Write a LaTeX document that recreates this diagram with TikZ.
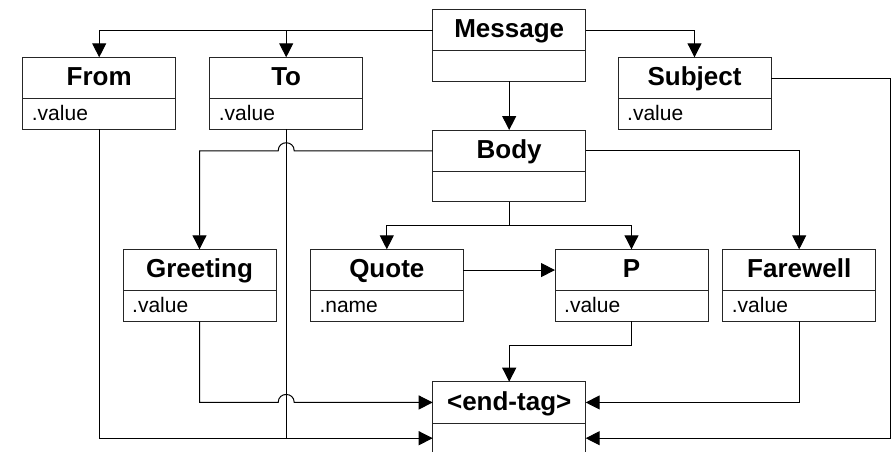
\documentclass[tikz,border=0pt]{standalone}
\usepackage{fontspec}
\setmainfont{Liberation Sans}
\usetikzlibrary{calc,arrows.meta}
\tikzset{
  umlrect/.style={draw=black!85, line width=1pt, inner sep=0pt, outer sep=0pt, minimum width=153pt, anchor=north west},
  divline/.style={draw=black!85, line width=1pt},
  titletext/.style={inner sep=0pt, anchor=base, font=\fontsize{26}{30}\selectfont\bfseries},
  valtext/.style={inner sep=0pt, anchor=base west, font=\fontsize{21}{25}\selectfont},
  conn/.style={draw=black, line width=1pt},
  arr/.style={conn, -{Triangle[length=14pt,width=14pt]}},
}
\newcommand\umlbox[6]{%
  \node[umlrect, minimum height=#6] (#1) at (#2,#3) {};
  \draw[divline] ($(#1.north west)+(0,41.5)$) -- ($(#1.north east)+(0,41.5)$);
  \node[titletext] (#1-t) at ($(#1.north)+(0,28.5)$) {#4};
  \node[valtext] (#1-v) at ($(#1.north west)+(9,63)$) {#5};
  \coordinate (#1-tw) at ($(#1.north west)+(0,20.75)$);
  \coordinate (#1-te) at ($(#1.north east)+(0,20.75)$);
}
\begin{document}
\begin{tikzpicture}[x=1pt,y=-1pt]
\useasboundingbox (0,0) rectangle (892,451);
\clip (0,0) rectangle (892,451);
\umlbox{msg}{432.7}{9.3}{Message}{}{72pt}
\umlbox{from}{22.7}{57.3}{From}{.value}{72pt}
\umlbox{to}{209.7}{57.3}{To}{.value}{72pt}
\umlbox{subj}{618}{57.3}{Subject}{.value}{72pt}
\umlbox{body}{432.7}{130}{Body}{}{71.5pt}
\umlbox{greet}{123}{249.3}{Greeting}{.value}{72pt}
\umlbox{quote}{310.3}{249.3}{Quote}{.name}{72pt}
\umlbox{p}{555}{249.3}{P}{.value}{72pt}
\umlbox{fare}{722.7}{249.3}{Farewell}{.value}{72pt}
\umlbox{end}{432.7}{381.7}{<end-tag>}{}{90pt}
\coordinate (end-bw) at ($(end.north west)+(0,56.5)$);
\coordinate (end-be) at ($(end.north east)+(0,56.5)$);
\coordinate (rail) at (890,0);
\coordinate (j1) at (to.south |- body-tw);
\coordinate (j2) at (to.south |- end-tw);
\coordinate (bsplit) at ($(body.south)+(0,24.4)$);
\coordinate (psplit) at ($(p.south)+(0,24)$);
% Message
\draw[arr] (msg-tw) -| (from.north);
\draw[arr] (msg-tw) -| (to.north);
\draw[arr] (msg-te) -| (subj.north);
\draw[arr] (msg.south) -- (body.north);
% Body
\draw[arr] (body-tw) -- ($(j1)+(8,0)$) .. controls ($(j1)+(8,-10.67)$) and ($(j1)+(-8,-10.67)$) .. ($(j1)+(-8,0)$) -| (greet.north);
\draw[arr] (body-te) -| (fare.north);
\draw[conn] (body.south) -- (bsplit);
\draw[arr] (bsplit) -| (quote.north);
\draw[arr] (bsplit) -| (p.north);
\draw[arr] (quote-te) -- (p-tw);
% to end-tag
\draw[arr] (greet.south) |- ($(j2)+(-8,0)$) .. controls ($(j2)+(-8,-10.67)$) and ($(j2)+(8,-10.67)$) .. ($(j2)+(8,0)$) -- (end-tw);
\draw[arr] (from.south) |- (end-bw);
\draw[conn] (to.south) -- (to.south |- end-bw);
\draw[conn] (p.south) -- (psplit);
\draw[arr] (psplit) -| (end.north);
\draw[arr] (fare.south) |- (end-te);
\draw[arr] (subj-te) -- (subj-te -| rail) |- (end-be);
\end{tikzpicture}
\end{document}
